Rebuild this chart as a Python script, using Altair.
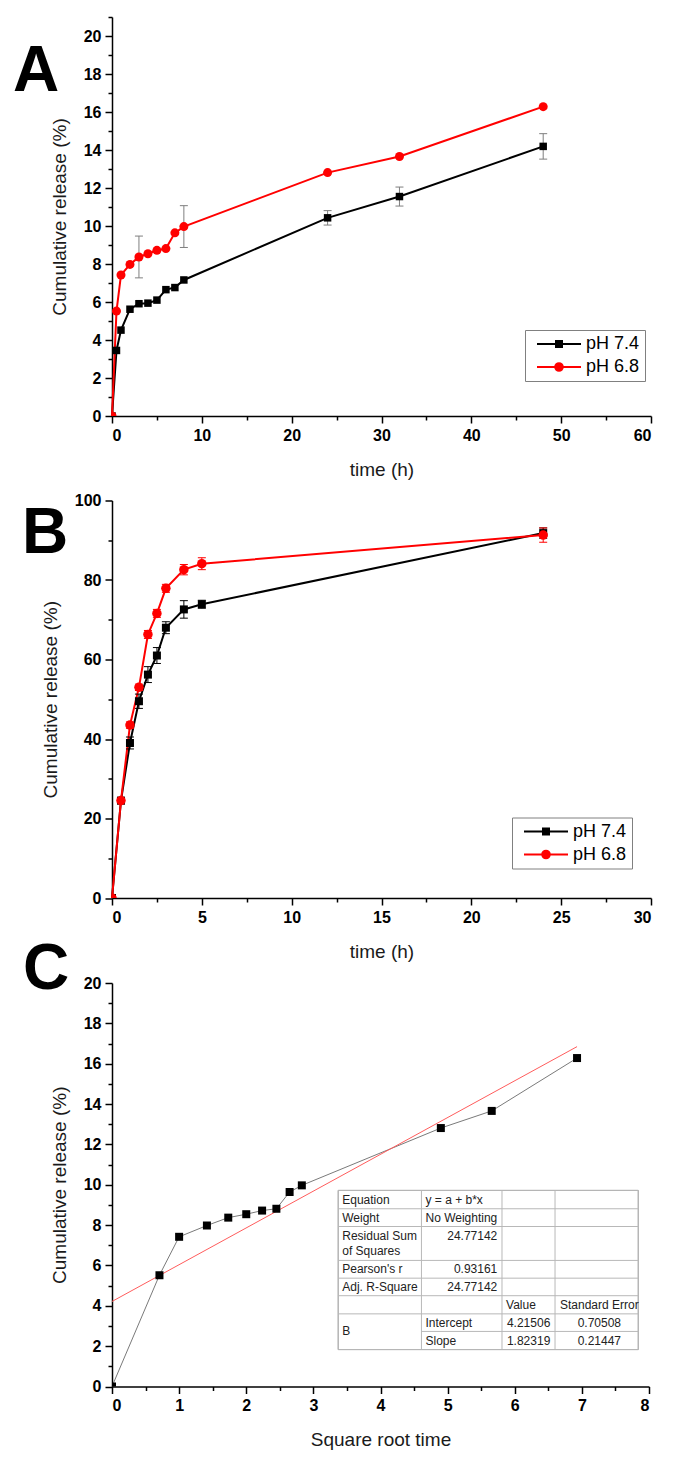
import altair as alt
import pandas as pd

SERIES = ["pH 7.4", "pH 6.8"]
SERIES_COLORS = ["#000000", "#ff0000"]

# ---- Panel A: cumulative release over 48 h ----
time_a = [0, 0.5, 1, 2, 3, 4, 5, 6, 7, 8, 24, 32, 48]
release_a_74 = [0, 3.45, 4.52, 5.62, 5.91, 5.94, 6.10, 6.65, 6.76, 7.16, 10.43, 11.55, 14.19]
sd_a_74 = [0, 0, 0, 0, 0, 0, 0, 0, 0, 0, 0.38, 0.50, 0.67]
release_a_68 = [0, 5.52, 7.42, 7.98, 8.37, 8.54, 8.72, 8.81, 9.64, 9.97, 12.81, 13.66, 16.28]
sd_a_68 = [0, 0, 0, 0, 1.10, 0, 0, 0, 0, 1.10, 0, 0, 0]

# ---- Panel B: cumulative release over 24 h ----
time_b = [0, 0.5, 1, 1.5, 2, 2.5, 3, 4, 5, 24]
release_b_74 = [0, 24.5, 39.0, 49.5, 56.2, 61.0, 68.0, 72.6, 73.9, 91.8]
sd_b_74 = [0, 0.8, 1.5, 1.8, 2.0, 2.0, 1.5, 2.2, 1.0, 1.3]
release_b_68 = [0, 24.5, 43.5, 53.0, 66.3, 71.6, 77.9, 82.6, 84.1, 91.3]
sd_b_68 = [0, 0.5, 0.8, 0.8, 1.0, 1.0, 1.0, 1.3, 1.5, 1.8]

# ---- Panel C: release vs square root of time, with linear fit ----
sqrt_time_c = [0, 0.707, 1.0, 1.414, 1.732, 2.0, 2.236, 2.449, 2.646, 2.828, 4.899, 5.657, 6.928]
release_c = [0, 5.52, 7.42, 7.98, 8.37, 8.54, 8.72, 8.81, 9.64, 9.97, 12.81, 13.66, 16.28]
fit_intercept = 4.21506
fit_slope = 1.82319

# Fit report table: (row, column, text, alignment)
table_cells = [
    (0, 0, "Equation", "left"), (0, 1, "y = a + b*x", "left"),
    (1, 0, "Weight", "left"), (1, 1, "No Weighting", "left"),
    (2, 0, "Residual Sum", "left"), (2.5, 0, "of Squares", "left"), (2, 1, "24.77142", "right"),
    (3, 0, "Pearson's r", "left"), (3, 1, "0.93161", "right"),
    (4, 0, "Adj. R-Square", "left"), (4, 1, "24.77142", "right"),
    (5, 2, "Value", "left"), (5, 3, "Standard Error", "center"),
    (6.5, 0, "B", "left"),
    (6, 1, "Intercept", "left"), (6, 2, "4.21506", "right"), (6, 3, "0.70508", "center"),
    (7, 1, "Slope", "left"), (7, 2, "1.82319", "right"), (7, 3, "0.21447", "center"),
]

# tick positions (every tick; only the major ones get a label)
ticks_a_x = [0, 5, 10, 15, 20, 25, 30, 35, 40, 45, 50, 55, 60]
ticks_a_y = list(range(0, 22))
ticks_b_x = [0, 2.5, 5, 7.5, 10, 12.5, 15, 17.5, 20, 22.5, 25, 27.5, 30]
ticks_b_y = [0, 10, 20, 30, 40, 50, 60, 70, 80, 90, 100]
ticks_c_x = [0, 0.5, 1, 1.5, 2, 2.5, 3, 3.5, 4, 4.5, 5, 5.5, 6, 6.5, 7, 7.5, 8]
ticks_c_y = list(range(0, 21))

# ---- layout / style ----
LABEL_FONT = "Liberation Sans"
TEXT_FONT = "Liberation Sans"
PANEL_W = 539
PANEL_C_W = 537
# table grid on the panel C axes (column and row edges in data units)
TABLE_COL_EDGES = [3.37, 4.61, 5.81, 6.60, 7.84]
TABLE_ROW_EDGES = [9.72, 8.81, 7.93, 6.25, 5.37, 4.50, 3.60, 2.73, 1.83]

# legend symbols: a line segment with the marker on it
SQUARE_PATH = "M-5.5,0H5.5M-0.75,-0.75H0.75V0.75H-0.75Z"
CIRCLE_PATH = ("M-5.5,0H5.5M-0.95,0A0.95,0.95 0 1,0 0.95,0"
               "A0.95,0.95 0 1,0 -0.95,0Z")


def make_axis(title, values, major_test, title_padding):
    return alt.Axis(
        title=title,
        values=values,
        grid=False,
        labelExpr=f"({major_test}) ? format(datum.value, 'd') : ''",
        tickSize={"condition": {"test": major_test, "value": 7}, "value": 4},
        titlePadding=title_padding,
    )


def long_table(times, values, errors):
    rows = []
    for name, vals, errs in zip(SERIES, values, errors):
        for t, v, e in zip(times, vals, errs):
            rows.append({"t": t, "v": v, "err": e, "lo": v - e, "hi": v + e,
                         "series": name})
    return pd.DataFrame(rows)


def panel_letter(letter, dx, dy):
    return alt.Chart(pd.DataFrame({"panel": [letter]})).mark_text(
        font=TEXT_FONT, fontSize=64, fontWeight="bold", align="center",
        baseline="alphabetic", color="black"
    ).encode(text="panel:N", x=alt.value(dx), y=alt.value(dy))


def release_panel(df, x_dom, x_ticks, x_major, y_dom, y_ticks, y_major,
                  err_by_series, sq_size, ci_size, legend_xy, letter, letter_xy,
                  height):
    color_scale = alt.Scale(domain=SERIES, range=SERIES_COLORS)
    x_scale = alt.Scale(domain=x_dom, nice=False, zero=False)
    y_scale = alt.Scale(domain=y_dom, nice=False, zero=False)
    x_axis = make_axis("time (h)", x_ticks, x_major, 17)
    y_axis = make_axis("Cumulative release (%)", y_ticks, y_major, 14)

    def X(field):
        return alt.X(field, scale=x_scale, axis=x_axis)

    def Y(field):
        return alt.Y(field, scale=y_scale, axis=y_axis)

    series_color = alt.Color("series:N", scale=color_scale, legend=None)
    base = alt.Chart(df)

    lines = base.mark_line(strokeWidth=2).encode(
        x=X("t:Q"), y=Y("v:Q"), color=series_color, detail="series:N")

    bars = base.transform_filter("datum.err > 0")
    err_color = series_color if err_by_series else alt.value("#7f7f7f")
    stems = bars.mark_rule(strokeWidth=1).encode(
        x=X("t:Q"), y=Y("lo:Q"), y2="hi:Q", color=err_color)
    caps_lo = bars.mark_rule(strokeWidth=1, xOffset=-4, x2Offset=4).encode(
        x=X("t:Q"), x2="t:Q", y=Y("lo:Q"), color=err_color)
    caps_hi = bars.mark_rule(strokeWidth=1, xOffset=-4, x2Offset=4).encode(
        x=X("t:Q"), x2="t:Q", y=Y("hi:Q"), color=err_color)

    squares = base.transform_filter(alt.datum.series == SERIES[0]).mark_square(
        size=sq_size, opacity=1, clip=True).encode(
        x=X("t:Q"), y=Y("v:Q"), color=series_color)
    circles = base.transform_filter(alt.datum.series == SERIES[1]).mark_circle(
        size=ci_size, opacity=1, clip=True).encode(
        x=X("t:Q"), y=Y("v:Q"), color=series_color)

    legend = alt.Legend(
        title=None, orient="none", legendX=legend_xy[0], legendY=legend_xy[1],
        symbolSize=64, symbolStrokeWidth=2, symbolOffset=20, labelOffset=18,
        labelFont=TEXT_FONT, labelFontSize=18, labelColor="black",
        strokeColor="#808080", fillColor="white", padding=5, rowPadding=5,
    )
    # legend-only layer: no rows survive the filter, only the legend is drawn
    legend_layer = base.transform_filter("false").mark_point(
        filled=True, opacity=1).encode(
        shape=alt.Shape("series:N", scale=alt.Scale(
            domain=SERIES, range=[SQUARE_PATH, CIRCLE_PATH]), legend=legend),
        fill=alt.Fill("series:N", scale=color_scale, legend=legend),
        stroke=alt.Stroke("series:N", scale=color_scale, legend=legend),
    )

    return alt.layer(
        lines, stems, caps_lo, caps_hi, squares, circles, legend_layer,
        panel_letter(letter, *letter_xy),
    ).properties(width=PANEL_W, height=height)


# ---- Panel A ----
df_a = long_table(time_a, [release_a_74, release_a_68], [sd_a_74, sd_a_68])
chart_a = release_panel(
    df_a, [0, 60], ticks_a_x, "datum.value % 10 === 0",
    [0, 21], ticks_a_y, "datum.value % 2 === 0",
    False, 56, 81, (413, 313), "A", (-76, 74), 399)

# ---- Panel B ----
df_b = long_table(time_b, [release_b_74, release_b_68], [sd_b_74, sd_b_68])
chart_b = release_panel(
    df_b, [0, 30], ticks_b_x, "datum.value % 5 === 0",
    [0, 100], ticks_b_y, "datum.value % 20 === 0",
    True, 64, 90, (400, 317), "B", (-67, 52), 397.5)

# ---- Panel C ----
cx_scale = alt.Scale(domain=[0, 8], nice=False, zero=False)
cy_scale = alt.Scale(domain=[0, 20], nice=False, zero=False)
cx_axis = make_axis("Square root time", ticks_c_x, "datum.value % 1 === 0", 17)
cy_axis = make_axis("Cumulative release (%)", ticks_c_y, "datum.value % 2 === 0", 14)


def CX(field):
    return alt.X(field, scale=cx_scale, axis=cx_axis)


def CY(field):
    return alt.Y(field, scale=cy_scale, axis=cy_axis)


df_c = pd.DataFrame({"s": sqrt_time_c, "v": release_c})
fit_x = [0, sqrt_time_c[-1]]
df_fit = pd.DataFrame({"s": fit_x, "v": [fit_intercept + fit_slope * x for x in fit_x]})

c_line = alt.Chart(df_c).mark_line(color="#7a7a7a", strokeWidth=1).encode(
    x=CX("s:Q"), y=CY("v:Q"))
c_fit = alt.Chart(df_fit).mark_line(color="#ff5c5c", strokeWidth=1).encode(
    x=CX("s:Q"), y=CY("v:Q"))
c_points = alt.Chart(df_c).mark_square(size=64, color="black", opacity=1,
                                       clip=True).encode(x=CX("s:Q"), y=CY("v:Q"))

# table geometry
col_l, col_r = TABLE_COL_EDGES[0], TABLE_COL_EDGES[-1]
row_t, row_b = TABLE_ROW_EDGES[0], TABLE_ROW_EDGES[-1]
df_bg = pd.DataFrame({"x0": [col_l], "x1": [col_r], "y0": [row_b], "y1": [row_t]})
hlines = []
for i, y in enumerate(TABLE_ROW_EDGES):
    # the "B" cell spans the last two rows, so no divider in its column
    start = TABLE_COL_EDGES[1] if i == 7 else col_l
    hlines.append({"x0": start, "x1": col_r, "y": y})
df_h = pd.DataFrame(hlines)
df_v = pd.DataFrame({"x": TABLE_COL_EDGES, "y0": [row_b] * len(TABLE_COL_EDGES),
                     "y1": [row_t] * len(TABLE_COL_EDGES)})

text_rows = []
for row, col, text, align in table_cells:
    r = int(row)
    top, bottom = TABLE_ROW_EDGES[r], TABLE_ROW_EDGES[r + 1]
    if row == 2 or row == 2.5:
        # two-line cell
        yc = (TABLE_ROW_EDGES[2] + TABLE_ROW_EDGES[3]) / 2 + (0.37 if row == 2 else -0.37)
    elif row == 6.5:
        yc = TABLE_ROW_EDGES[7]
    else:
        yc = (top + bottom) / 2
    left, right = TABLE_COL_EDGES[col], TABLE_COL_EDGES[col + 1]
    if align == "left":
        xc = left + 0.06
    elif align == "right":
        xc = right - 0.07
    else:
        xc = (left + right) / 2 + 0.04
    text_rows.append({"x": xc, "y": yc, "label": text, "align": align})
df_text = pd.DataFrame(text_rows)

table_bg = alt.Chart(df_bg).mark_rect(fill="white", stroke="#9a9a9a",
                                      strokeWidth=1).encode(
    x=CX("x0:Q"), x2="x1:Q", y=CY("y0:Q"), y2="y1:Q")
table_h = alt.Chart(df_h).mark_rule(color="#b8b8b8", strokeWidth=1).encode(
    x=CX("x0:Q"), x2="x1:Q", y=CY("y:Q"))
table_v = alt.Chart(df_v).mark_rule(color="#b8b8b8", strokeWidth=1).encode(
    x=CX("x:Q"), y=CY("y0:Q"), y2="y1:Q")
table_text = [
    alt.Chart(df_text).transform_filter(alt.datum.align == a).mark_text(
        align=a, baseline="middle", font=TEXT_FONT, fontSize=12, color="#222222"
    ).encode(x=CX("x:Q"), y=CY("y:Q"), text="label:N")
    for a in ["left", "right", "center"]
]

chart_c = alt.layer(
    c_line, c_fit, c_points, table_bg, table_h, table_v, *table_text,
    panel_letter("C", -66, 6),
).properties(width=PANEL_C_W, height=403.5)

chart = alt.vconcat(chart_a, chart_b, chart_c, spacing=84.5, bounds="flush").resolve_scale(
    fill="independent", stroke="independent", shape="independent"
).resolve_legend(
    fill="independent", stroke="independent", shape="independent"
).properties(
    padding={"left": 12, "top": 16, "right": 4, "bottom": 4}
).configure_view(stroke=None).configure_axis(
    domainColor="black", domainWidth=1.5, tickColor="black", tickWidth=1.5,
    labelFont=LABEL_FONT, labelFontSize=16, labelFontWeight="bold",
    labelColor="black", labelPadding=4,
    titleFont=TEXT_FONT, titleFontSize=19, titleFontWeight="normal",
    titleColor="#1a1a1a",
)

chart.save("out.html", embed_options={"renderer": "svg", "actions": False})
